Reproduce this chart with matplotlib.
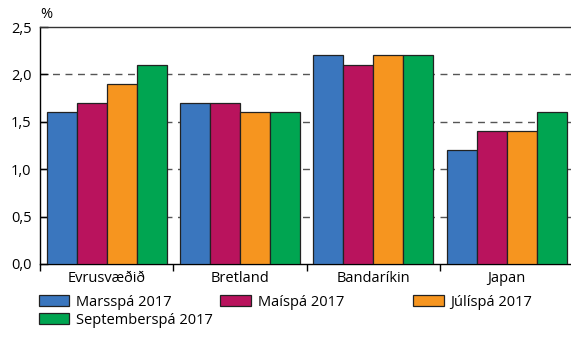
import matplotlib.pyplot as plt
import numpy as np

plt.rcParams['font.family'] = ['Open Sans', 'DejaVu Sans']

categories = ["Evrusvæðið", "Bretland", "Bandaríkin", "Japan"]
series_names = ["Marsspá 2017", "Maíspá 2017", "Júlíspá 2017", "Septemberspá 2017"]
mars = [1.6, 1.7, 2.2, 1.2]
mai = [1.7, 1.7, 2.1, 1.4]
juli = [1.9, 1.6, 2.2, 1.4]
sept = [2.1, 1.6, 2.2, 1.6]
colors = ["#3a76be", "#b9135d", "#f6951f", "#00a551"]
yticks = [0.0, 0.5, 1.0, 1.5, 2.0, 2.5]

fs = 10.5

fig = plt.figure(figsize=(5.71, 3.38), dpi=100)
ax = fig.add_axes([0.070, 0.219, 0.934, 0.701])

x = np.arange(len(categories))
w = 0.225
handles = []
for i, (vals, name) in enumerate(zip([mars, mai, juli, sept], series_names)):
    h = ax.bar(x + (i - 1.5) * w, vals, w, color=colors[i], edgecolor="#222222",
               linewidth=0.9, label=name, zorder=3)
    handles.append(h)

# dashed gridlines
for y in yticks[1:-1]:
    ax.axhline(y, color="#555555", lw=1.0, ls=(0, (5, 4)), zorder=1)

ax.set_xlim(-0.5, len(categories) - 0.5)
ax.set_ylim(0, 2.5)
ax.set_yticks(yticks)
ax.set_yticklabels([f"{v:.1f}".replace(".", ",") for v in yticks], fontsize=fs)
ax.tick_params(axis="y", direction="in", length=6, width=1, pad=6)

ax.set_xticks(np.arange(len(categories) + 1) - 0.5)
ax.set_xticklabels([])
ax.set_xticks(x, minor=True)
ax.set_xticklabels(categories, minor=True, fontsize=fs)
ax.tick_params(axis="x", which="major", direction="out", length=5, width=1)
ax.tick_params(axis="x", which="minor", length=0, pad=5)

for s in ["left", "bottom"]:
    ax.spines[s].set_color("black")
    ax.spines[s].set_linewidth(1)
ax.spines["top"].set_color("#333333")
ax.spines["top"].set_linewidth(1)
ax.spines["right"].set_visible(False)

fig.text(0.070, 0.958, "%", fontsize=fs, ha="left", va="center")

leg_kw = dict(frameon=False, fontsize=fs, handlelength=2.1, handleheight=0.8,
              handletextpad=0.45, labelspacing=0.2, borderaxespad=0, borderpad=0)
fig.legend([handles[0], handles[3]], [series_names[0], series_names[3]],
           loc="upper left", bbox_to_anchor=(0.068, 0.128), **leg_kw)
fig.legend([handles[1]], [series_names[1]],
           loc="upper left", bbox_to_anchor=(0.386, 0.128), **leg_kw)
fig.legend([handles[2]], [series_names[2]],
           loc="upper left", bbox_to_anchor=(0.724, 0.128), **leg_kw)

fig.savefig("out.png", dpi=100)
